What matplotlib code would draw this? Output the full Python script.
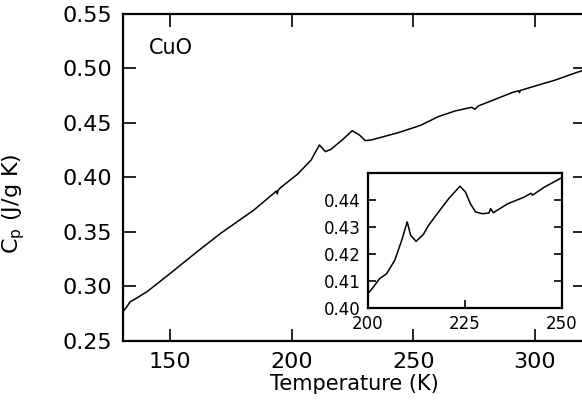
import matplotlib
matplotlib.use('Agg')
import matplotlib.pyplot as plt

# main curve: specific heat of CuO
temp_main = [130.5, 132.1, 133.5, 134.8, 140.4, 150.0, 161.0, 170.7, 184.4, 193.6, 194.0,
             194.3, 195.5, 202.4, 207.9, 211.3, 213.8, 216.1, 221.0, 224.8, 227.8, 230.2,
             232.6, 236.8, 243.7, 250.5, 253.3, 260.2, 267.1, 274.0, 275.3, 276.7, 283.6,
             290.5, 293.3, 293.6, 294.0, 301.5, 308.4, 315.3, 320.5]
cp_main = [0.2769, 0.2815, 0.2861, 0.2876, 0.2952, 0.3121, 0.3319, 0.3488, 0.3702, 0.3875, 0.3848,
           0.3882, 0.3910, 0.4032, 0.4160, 0.4298, 0.4237, 0.4259, 0.4350, 0.4429, 0.4390, 0.4338,
           0.4344, 0.4369, 0.4411, 0.4460, 0.4482, 0.4558, 0.4610, 0.4644, 0.4626, 0.4656, 0.4717,
           0.4778, 0.4796, 0.4778, 0.4798, 0.4849, 0.4894, 0.4949, 0.4988]

# inset: transition region
temp_inset = [200.0, 201.5, 203.0, 204.8, 206.9, 208.7, 210.1, 211.0, 212.4, 214.3, 215.6,
              218.2, 220.8, 223.7, 225.1, 226.4, 227.7, 229.5, 231.2, 231.6, 232.3, 236.0,
              240.3, 242.0, 242.4, 245.5, 250.0]
cp_inset = [0.4053, 0.4080, 0.4109, 0.4127, 0.4177, 0.4251, 0.4319, 0.4269, 0.4247, 0.4273, 0.4306,
            0.4356, 0.4405, 0.4451, 0.4430, 0.4386, 0.4356, 0.4349, 0.4352, 0.4368, 0.4353, 0.4386,
            0.4411, 0.4425, 0.4418, 0.4448, 0.4483]

main_xticks = [150, 200, 250, 300]
main_yticks = [0.25, 0.30, 0.35, 0.40, 0.45, 0.50, 0.55]
inset_xticks = [200, 225, 250]
inset_yticks = [0.40, 0.41, 0.42, 0.43, 0.44]

fig = plt.figure(figsize=(5.82, 4.04), dpi=100)
ax = fig.add_axes([0.2113, 0.156, 0.7935, 0.8094])
ax.plot(temp_main, cp_main, color='black', lw=1.1)
ax.set_xlim(130.5, 320.5)
ax.set_ylim(0.25, 0.55)
ax.set_xticks(main_xticks)
ax.set_xticklabels([str(t) for t in main_xticks])
ax.set_yticks(main_yticks)
ax.set_yticklabels(['%.2f' % v for v in main_yticks])
ax.tick_params(direction='in', length=9, width=1.2, labelsize=16, pad=8,
               top=True, right=True)
for s in ax.spines.values():
    s.set_linewidth(1.6)
ax.set_xlabel('Temperature (K)', fontsize=15)
ax.set_ylabel(r'C$_\mathrm{p}$ (J/g K)', fontsize=16)
ax.xaxis.set_label_coords(0.5, -0.1)
ax.yaxis.set_label_coords(-0.207, 0.42)
ax.text(0.0565, 0.878, 'CuO', transform=ax.transAxes, fontsize=15)

# inset
ins = fig.add_axes([0.6323, 0.2376, 0.3333, 0.3342])
ins.plot(temp_inset, cp_inset, color='black', lw=1.1)
ins.set_xlim(200, 250)
ins.set_ylim(0.40, 0.45)
ins.set_xticks(inset_xticks)
ins.set_xticklabels([str(t) for t in inset_xticks])
ins.set_yticks(inset_yticks)
ins.set_yticklabels(['%.2f' % v for v in inset_yticks])
ins.tick_params(direction='in', length=6, width=1.2, labelsize=12, pad=5,
                top=False, right=True)
for s in ins.spines.values():
    s.set_linewidth(1.6)

fig.savefig('out.png', dpi=100)
